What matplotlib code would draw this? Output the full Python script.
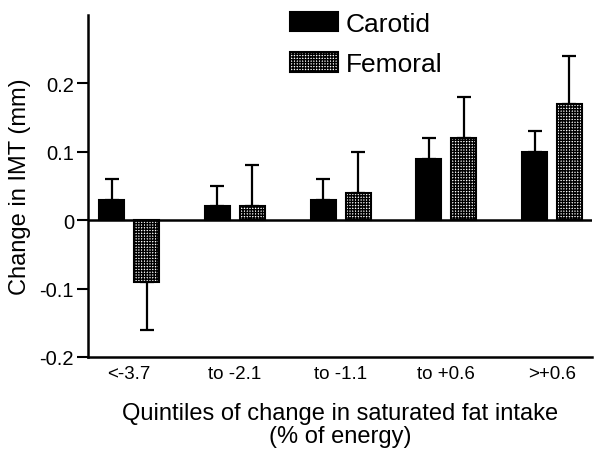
import matplotlib
matplotlib.use("Agg")
import matplotlib.pyplot as plt
import numpy as np

plt.rcParams['font.family'] = ['Liberation Sans', 'DejaVu Sans']
plt.rcParams['axes.unicode_minus'] = False
plt.rcParams['hatch.linewidth'] = 1.0

categories = ['<-3.7', 'to -2.1', 'to -1.1', 'to +0.6', '>+0.6']
carotid = [0.03, 0.02, 0.03, 0.09, 0.10]
carotid_err = [0.03, 0.03, 0.03, 0.03, 0.03]
femoral = [-0.09, 0.02, 0.04, 0.12, 0.17]
femoral_err = [0.07, 0.06, 0.06, 0.06, 0.07]
yticks = [-0.2, -0.1, 0, 0.1, 0.2]
ytick_labels = ['-0.2', '-0.1', '0', '0.1', '0.2']

fig = plt.figure(figsize=(5.94, 4.52), dpi=100)
ax = fig.add_axes([0.148, 0.208, 0.849, 0.757])

x = np.arange(len(categories))
w = 0.236
off = 0.165

def one_sided(vals, errs):
    lo = [e if v < 0 else 0 for v, e in zip(vals, errs)]
    hi = [e if v >= 0 else 0 for v, e in zip(vals, errs)]
    return [lo, hi]

ekw = dict(elinewidth=1.6, capthick=1.6, capsize=5, ecolor='black')
ax.bar(x - off, carotid, w, color='black', edgecolor='black', linewidth=1.5,
       yerr=one_sided(carotid, carotid_err), error_kw=ekw, label='Carotid', zorder=3)
ax.bar(x + off, femoral, w, color='white', edgecolor='black', linewidth=1.5, hatch='++++++',
       yerr=one_sided(femoral, femoral_err), error_kw=ekw, label='Femoral', zorder=3)

ax.axhline(0, color='black', linewidth=1.8, zorder=4)

ax.set_xlim(-0.39, 4.38)
ax.set_ylim(-0.2, 0.30)
ax.set_yticks(yticks)
ax.set_yticklabels(ytick_labels)
ax.set_xticks(x)
ax.set_xticklabels(categories)

for s in ['top', 'right']:
    ax.spines[s].set_visible(False)
for s in ['left', 'bottom']:
    ax.spines[s].set_linewidth(1.8)

ax.tick_params(axis='y', length=8, width=1.5, labelsize=14.5, direction='out', pad=2)
ax.tick_params(axis='x', length=0, labelsize=13.5, pad=6)

ax.set_ylabel('Change in IMT (mm)', fontsize=17, labelpad=6)
ax.set_xlabel('Quintiles of change in saturated fat intake\n(% of energy)', fontsize=17,
              labelpad=14, linespacing=1.1)

leg = fig.legend(loc='upper left', bbox_to_anchor=(290 / 594, 1 - 13 / 452),
                 frameon=False, fontsize=19, handlelength=1.8, handleheight=0.75,
                 handletextpad=0.3, labelspacing=0.62, borderpad=0, borderaxespad=0)

fig.savefig('out.png', dpi=100)
